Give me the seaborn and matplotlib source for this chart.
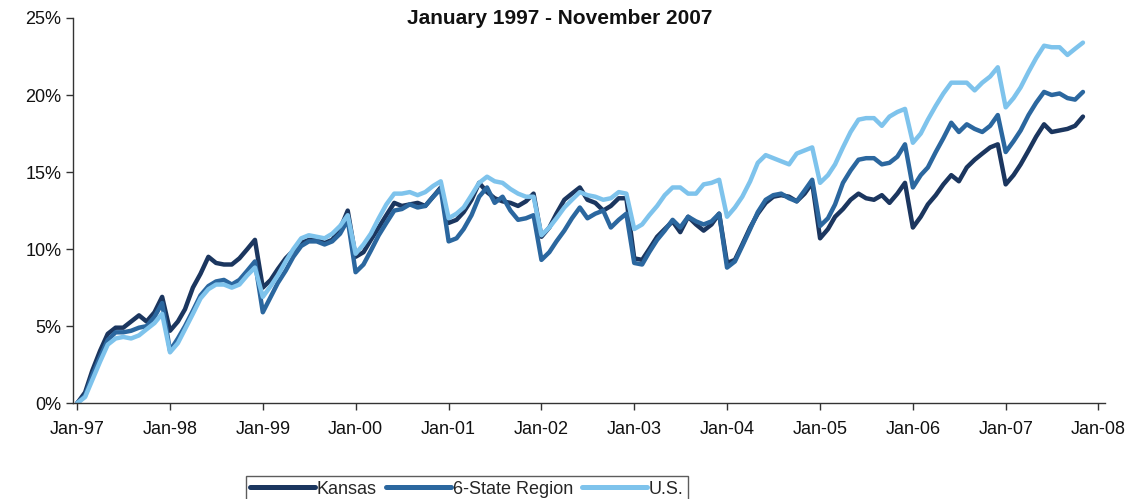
import pandas as pd
import numpy as np
import matplotlib
matplotlib.use("Agg")
import matplotlib.pyplot as plt
import matplotlib.dates as mdates
from matplotlib.ticker import FuncFormatter
import seaborn as sns

# monthly values, Jan 1997 - Nov 2007 (percent)
meses = pd.date_range("1997-01-01", "2007-11-01", freq="MS")

kansas = [
    0.0, 0.7, 2.1, 3.4, 4.5, 4.9, 4.9, 5.3, 5.7, 5.3, 5.9, 6.9,
    4.7, 5.3, 6.1, 7.5, 8.4, 9.5, 9.1, 9.0, 9.0, 9.4, 10.0, 10.6,
    7.5, 8.0, 8.7, 9.4, 9.9, 10.4, 10.6, 10.6, 10.4, 10.6, 11.3, 12.5,
    9.5, 9.8, 10.6, 11.4, 12.2, 13.0, 12.8, 12.9, 13.0, 12.8, 13.4, 14.0,
    11.7, 11.9, 12.4, 13.2, 14.3, 13.7, 13.3, 13.1, 13.0, 12.8, 13.1, 13.6,
    10.8, 11.4, 12.3, 13.2, 13.6, 14.0, 13.2, 13.0, 12.5, 12.8, 13.3, 13.3,
    9.4, 9.3, 10.0, 10.8, 11.3, 11.8, 11.1, 12.1, 11.6, 11.2, 11.6, 12.3,
    9.1, 9.3, 10.3, 11.4, 12.3, 13.0, 13.4, 13.5, 13.4, 13.1, 13.6, 14.3,
    10.7, 11.3, 12.1, 12.6, 13.2, 13.6, 13.3, 13.2, 13.5, 13.0, 13.6, 14.3,
    11.4, 12.1, 12.9, 13.5, 14.2, 14.8, 14.4, 15.3, 15.8, 16.2, 16.6, 16.8,
    14.2, 14.8, 15.5, 16.4, 17.3, 18.1, 17.6, 17.7, 17.8, 18.0, 18.6,
]
region6 = [
    0.0, 0.5, 1.8, 3.0, 4.1, 4.6, 4.6, 4.7, 4.9, 5.0, 5.6, 6.5,
    3.4, 4.2, 5.0, 6.0, 7.0, 7.6, 7.9, 8.0, 7.7, 8.0, 8.6, 9.2,
    5.9, 6.9, 7.8, 8.6, 9.5, 10.2, 10.5, 10.5, 10.3, 10.5, 11.0, 11.9,
    8.5, 9.0, 9.9, 10.9, 11.7, 12.5, 12.6, 12.9, 12.7, 12.8, 13.4, 13.9,
    10.5, 10.7, 11.3, 12.2, 13.4, 14.0, 13.0, 13.4, 12.5, 11.9, 12.0, 12.2,
    9.3, 9.8, 10.5, 11.2, 12.0, 12.7, 12.0, 12.3, 12.5, 11.4, 11.9, 12.3,
    9.1, 9.0, 9.8, 10.6, 11.2, 11.9, 11.4, 12.1, 11.8, 11.6, 11.8, 12.3,
    8.8, 9.2, 10.2, 11.3, 12.4, 13.2, 13.5, 13.6, 13.3, 13.1, 13.8, 14.5,
    11.5, 12.0, 12.9, 14.3, 15.1, 15.8, 15.9, 15.9, 15.5, 15.6, 16.0, 16.8,
    14.0, 14.8, 15.3, 16.3, 17.2, 18.2, 17.6, 18.1, 17.8, 17.6, 18.0, 18.7,
    16.3, 17.0, 17.7, 18.7, 19.5, 20.2, 20.0, 20.1, 19.8, 19.7, 20.2,
]
us = [
    0.0, 0.4, 1.5, 2.7, 3.8, 4.2, 4.3, 4.2, 4.4, 4.8, 5.2, 5.8,
    3.3, 3.9, 4.8, 5.8, 6.8, 7.4, 7.7, 7.7, 7.5, 7.7, 8.3, 8.8,
    6.9, 7.6, 8.3, 9.2, 10.0, 10.7, 10.9, 10.8, 10.7, 11.0, 11.5, 12.2,
    9.7, 10.3, 11.0, 12.0, 12.9, 13.6, 13.6, 13.7, 13.5, 13.7, 14.1, 14.4,
    12.0, 12.3, 12.7, 13.5, 14.3, 14.7, 14.4, 14.3, 13.9, 13.6, 13.4, 13.4,
    10.9, 11.4, 12.0, 12.7, 13.2, 13.7, 13.5, 13.4, 13.2, 13.3, 13.7, 13.6,
    11.3, 11.6, 12.2, 12.8, 13.5, 14.0, 14.0, 13.6, 13.6, 14.2, 14.3, 14.5,
    12.1, 12.7, 13.4, 14.4, 15.6, 16.1, 15.9, 15.7, 15.5, 16.2, 16.4, 16.6,
    14.3, 14.8, 15.5, 16.6, 17.6, 18.4, 18.5, 18.5, 18.0, 18.6, 18.9, 19.1,
    16.9, 17.5, 18.4, 19.3, 20.1, 20.8, 20.8, 20.8, 20.3, 20.8, 21.2, 21.8,
    19.2, 19.8, 20.5, 21.5, 22.4, 23.2, 23.1, 23.1, 22.6, 23.0, 23.4,
]

series = ["Kansas", "6-State Region", "U.S."]
colores = ["#1b365f", "#2b679f", "#7ec3ec"]

df = pd.DataFrame({"mes": meses, "Kansas": kansas,
                   "6-State Region": region6, "U.S.": us})
df_largo = df.melt(id_vars="mes", var_name="serie", value_name="valor")

sns.set_style("ticks")
plt.rcParams['font.family'] = ['Liberation Sans', 'DejaVu Sans']

fig = plt.figure(figsize=(11.47, 4.99), dpi=100)
ax = fig.add_axes([0.064, 0.192, 0.899, 0.772])

sns.lineplot(data=df_largo, x="mes", y="valor", hue="serie",
             hue_order=series, palette=colores, linewidth=3.2,
             ax=ax, legend=False)

ax.set_ylim(0, 25)
ax.set_yticks(range(0, 26, 5))
ax.yaxis.set_major_formatter(FuncFormatter(lambda v, p: "{:.0f}%".format(v)))
ax.set_xlim(pd.Timestamp("1996-12-17"), pd.Timestamp("2008-01-25"))
ax.set_xticks(pd.date_range("1997-01-01", "2008-01-01", freq="YS"))
ax.xaxis.set_major_formatter(mdates.DateFormatter("%b-%y"))
ax.set_xlabel("")
ax.set_ylabel("")
ax.tick_params(axis="both", labelsize=13, length=5, width=1,
               colors="#333333", labelcolor="#111111")
ax.tick_params(axis="x", pad=8)
sns.despine(ax=ax)
for s in ["left", "bottom"]:
    ax.spines[s].set_color("#333333")
    ax.spines[s].set_linewidth(1)

fig.text(0.488, 0.962, "January 1997 - November 2007", ha="center",
         va="center", fontsize=15, fontweight="bold", color="#111111")

manijas = [plt.Line2D([], [], color=c, linewidth=3.6) for c in colores]
leg = fig.legend(manijas, series, loc="upper center",
                 bbox_to_anchor=(0.407, 0.064), ncol=3, fontsize=13,
                 handlelength=3.6, handletextpad=0.1, columnspacing=0.5,
                 frameon=True, fancybox=False, borderpad=0.25)
leg.get_frame().set_edgecolor("#333333")
leg.get_frame().set_linewidth(1)

fig.savefig("out.png", dpi=100)
